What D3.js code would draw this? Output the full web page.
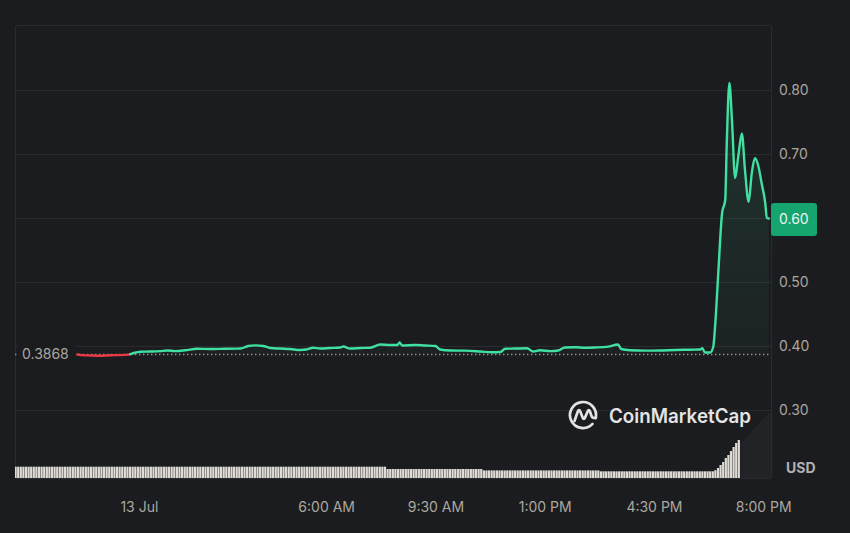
<!DOCTYPE html>
<html><head><meta charset="utf-8">
<script src="https://cdn.jsdelivr.net/npm/d3@7"></script>
<style>
html,body{margin:0;padding:0;background:#1b1c1f;}
svg{display:block;}
text{font-family:Inter,"Noto Sans",sans-serif;}
</style>
</head><body><svg id="c" width="850" height="533"></svg>
<script>
// ---------------- data ----------------
const priceTimes = [
"07-12 22:01","07-12 22:10","07-12 22:26","07-12 22:45","07-12 23:04","07-12 23:23","07-12 23:39","07-12 23:47",
"07-13 00:02","07-13 00:21","07-13 00:40","07-13 00:54","07-13 01:09","07-13 01:28","07-13 01:51","07-13 02:16",
"07-13 02:45","07-13 03:14","07-13 03:29","07-13 03:43","07-13 03:58","07-13 04:12","07-13 04:31","07-13 04:50",
"07-13 05:09","07-13 05:21","07-13 05:34","07-13 05:48","07-13 06:07","07-13 06:26","07-13 06:32","07-13 06:45",
"07-13 07:05","07-13 07:24","07-13 07:43","07-13 08:02","07-13 08:16","07-13 08:20","07-13 08:25","07-13 08:50",
"07-13 09:09","07-13 09:29","07-13 09:38","07-13 09:58","07-13 10:26","07-13 10:55","07-13 11:18","07-13 11:34",
"07-13 11:43","07-13 12:02","07-13 12:25","07-13 12:37","07-13 12:50","07-13 13:10","07-13 13:25","07-13 13:38",
"07-13 13:58","07-13 14:17","07-13 14:36","07-13 15:01","07-13 15:20","07-13 15:26","07-13 15:43","07-13 16:12",
"07-13 16:41","07-13 17:10","07-13 17:39","07-13 17:58","07-13 18:02","07-13 18:07","07-13 18:17","07-13 18:23",
"07-13 18:27","07-13 18:33","07-13 18:40","07-13 18:46","07-13 18:49","07-13 18:54","07-13 18:59","07-13 19:05",
"07-13 19:11","07-13 19:18","07-13 19:24","07-13 19:31","07-13 19:37","07-13 19:43","07-13 19:50","07-13 19:56",
"07-13 20:03","07-13 20:06","07-13 20:10"
];
const priceValues = [
0.3868,0.3858,0.3852,0.3847,0.3856,0.3858,0.3865,0.3885,
0.3911,0.3914,0.3920,0.3930,0.3920,0.3933,0.3958,0.3953,
0.3958,0.3960,0.4000,0.4010,0.4000,0.3969,0.3960,0.3953,
0.3938,0.3945,0.3973,0.3960,0.3969,0.3977,0.3992,0.3960,
0.3969,0.3973,0.4023,0.4016,0.4016,0.4055,0.4008,0.4016,
0.4008,0.4000,0.3945,0.3930,0.3927,0.3914,0.3902,0.3906,
0.3958,0.3960,0.3964,0.3914,0.3933,0.3920,0.3930,0.3977,
0.3980,0.3972,0.3977,0.3990,0.4023,0.3953,0.3933,0.3927,
0.3930,0.3938,0.3942,0.3945,0.3964,0.3898,0.3898,0.3984,
0.4360,0.5188,0.6078,0.6281,0.7172,0.8109,0.7531,0.6625,
0.6958,0.7323,0.6750,0.6255,0.6698,0.6933,0.6802,0.6542,
0.6230,0.6000,0.5992
];
const openPrice = 0.3868;
const openLabel = "0.3868";
const lastPriceLabel = "0.60";

const volumeStart = "07-12 20:00";
const volumeStepMinutes = 5;
const volumeValues = [
113,113,113,113,113,113,113,113,113,113,113,113, // 20h
113,113,113,113,113,113,113,113,113,113,113,113, // 21h
113,113,113,113,113,113,113,113,113,113,113,113, // 22h
113,113,113,113,113,113,113,113,113,113,113,113, // 23h
113,113,113,113,113,113,113,113,113,113,113,113, // 00h
113,113,113,113,113,113,113,113,113,113,113,113, // 01h
113,113,113,113,113,113,113,113,113,113,113,113, // 02h
113,113,113,113,113,113,113,113,113,113,113,113, // 03h
113,113,113,113,113,113,113,113,113,113,113,113, // 04h
113,113,113,113,113,113,113,113,113,113,113,113, // 05h
113,113,113,113,113,113,113,113,113,113,113,113, // 06h
113,113,113,113,113,113,113,113,113,113,113,90,  // 07h
90,90,90,90,90,90,90,90,90,90,90,90,             // 08h
90,90,90,90,90,90,90,90,90,90,90,90,             // 09h
90,90,90,90,90,90,90,90,90,90,90,90,             // 10h
76,76,76,76,76,76,76,76,76,76,76,76,             // 11h
76,76,76,76,76,76,76,76,76,76,76,76,             // 12h
76,76,76,76,76,76,76,76,76,76,76,76,             // 13h
76,76,76,76,76,76,76,76,76,67,67,67,             // 14h
67,67,67,67,67,67,67,67,67,67,67,67,             // 15h
67,67,67,67,67,67,67,67,67,67,67,67,             // 16h
67,67,67,67,67,67,67,67,67,67,67,67,             // 17h
67,67,67,67,67,78,100,130,160,200,230,270,       // 18h
310,350,380                                      // 19h
];

const yTicks = [0.30,0.40,0.50,0.60,0.70,0.80];
const xTickTimes = ["07-13 00:00","07-13 06:00","07-13 09:30","07-13 13:00","07-13 16:30","07-13 20:00"];
const xTickLabels = ["13 Jul","6:00 AM","9:30 AM","1:00 PM","4:30 PM","8:00 PM"];
const xDomainTimes = ["07-12 20:01","07-13 20:14"];
const currency = "USD";
const brand = "CoinMarketCap";

// ---------------- chart ----------------
const parse = d3.timeParse("%m-%d %H:%M");
const svg = d3.select("#c");
const W = 850, H = 533;
const plot = {left:15, right:771, top:25, bottom:478};
const bg = "#1b1c1f", gridC = "#2a2b2f", axisText = "#aba79f";
const green = "#3fe0a1", red = "#ea3943";

svg.append("rect").attr("width",W).attr("height",H).attr("fill",bg);

const x = d3.scaleTime().domain(xDomainTimes.map(parse)).range([plot.left, plot.right]);
const y = d3.scaleLinear().domain([0.30,0.80]).range([410,90]);
const yVol = d3.scaleLinear().domain([0,680]).range([plot.bottom, 410]);

const data = priceTimes.map((t,i)=>({t:parse(t), v:priceValues[i]}));
const yBase = y(openPrice);

const defs = svg.append("defs");
defs.append("clipPath").attr("id","plotClip").append("rect")
  .attr("x",plot.left).attr("y",plot.top).attr("width",plot.right-plot.left).attr("height",plot.bottom-plot.top);
defs.append("clipPath").attr("id","above").append("rect")
  .attr("x",plot.left).attr("y",plot.top).attr("width",plot.right-plot.left).attr("height",yBase-plot.top);
defs.append("clipPath").attr("id","below").append("rect")
  .attr("x",plot.left).attr("y",yBase).attr("width",plot.right-plot.left).attr("height",plot.bottom-yBase);

const gFill = defs.append("linearGradient").attr("id","gfill").attr("gradientUnits","userSpaceOnUse")
  .attr("x1",0).attr("x2",0).attr("y1",y(0.82)).attr("y2",yBase);
gFill.append("stop").attr("offset","0").attr("stop-color",green).attr("stop-opacity",0.13);
gFill.append("stop").attr("offset","1").attr("stop-color",green).attr("stop-opacity",0.03);
const rFill = defs.append("linearGradient").attr("id","rfill").attr("gradientUnits","userSpaceOnUse")
  .attr("x1",0).attr("x2",0).attr("y1",yBase).attr("y2",yBase+20);
rFill.append("stop").attr("offset","0").attr("stop-color",red).attr("stop-opacity",0.05);
rFill.append("stop").attr("offset","1").attr("stop-color",red).attr("stop-opacity",0.15);

// line colour gradient along x: red where price is below open, green where above
const stops = [];
for (let i=1;i<data.length;i++){
  const d=data[i], p=data[i-1];
  const below = d.v < openPrice, pb = p.v < openPrice;
  if (pb !== below){
    const f=(openPrice-p.v)/(d.v-p.v);
    const xc = x(p.t)+(x(d.t)-x(p.t))*f;
    stops.push({x:xc, c: pb?red:green});
    stops.push({x:xc, c: below?red:green});
  }
}
const lx0 = x(data[0].t), lx1 = x(data[data.length-1].t);
const lineGrad = defs.append("linearGradient").attr("id","lineGrad").attr("gradientUnits","userSpaceOnUse")
  .attr("x1",lx0).attr("x2",lx1).attr("y1",0).attr("y2",0);
const firstC = data[1].v < openPrice ? red : green;
lineGrad.append("stop").attr("offset",0).attr("stop-color",firstC);
stops.forEach(s=>lineGrad.append("stop").attr("offset",(s.x-lx0)/(lx1-lx0)).attr("stop-color",s.c));
lineGrad.append("stop").attr("offset",1).attr("stop-color",data[data.length-1].v<openPrice?red:green);

// grid
svg.append("g").selectAll("line").data(yTicks).join("line")
  .attr("x1",plot.left).attr("x2",plot.right)
  .attr("y1",d=>Math.round(y(d))+0.5).attr("y2",d=>Math.round(y(d))+0.5)
  .attr("stroke",gridC).attr("stroke-width",1);

// frame
svg.append("rect").attr("x",plot.left+0.5).attr("y",plot.top+0.5)
  .attr("width",plot.right-plot.left).attr("height",plot.bottom-plot.top)
  .attr("fill","none").attr("stroke",gridC).attr("stroke-width",1).attr("rx",1.5);

// volume bars
const v0 = parse(volumeStart);
const volData = volumeValues.map((v,i)=>({t0:d3.timeMinute.offset(v0,i*volumeStepMinutes), t1:d3.timeMinute.offset(v0,(i+1)*volumeStepMinutes), v}));
const gv = svg.append("g").attr("clip-path","url(#plotClip)");
gv.append("path")
  .attr("d", (()=>{ const lastV=volData[volData.length-1]; const xe=x(lastV.t1);
     return `M${xe},${yVol(lastV.v)+4} L${xe+28},${yVol(lastV.v)-27} L${plot.right},${yVol(lastV.v)-27} L${plot.right},${plot.bottom} L${xe},${plot.bottom}Z`; })())
  .attr("fill","#212326");
gv.selectAll("rect").data(volData).join("rect")
  .attr("x",d=>x(d.t0)).attr("width",d=>(x(d.t1)-x(d.t0))*0.85)
  .attr("y",d=>yVol(d.v)).attr("height",d=>plot.bottom-yVol(d.v))
  .attr("fill","#dfdcd6");

// logo
const logo = svg.append("g").attr("transform","translate(583,415)");
logo.append("path")
  .attr("d","M 9.5 8.9 A 13 13 0 1 1 12.6 3.2")
  .attr("fill","none").attr("stroke","#e2e2e2").attr("stroke-width",2.7).attr("stroke-linecap","round");
logo.append("path")
  .attr("d","M -8.5 6 L -5.2 -3.5 Q -4 -6.3 -2.7 -3.5 L -0.4 2.6 Q 0.8 5.2 2 2.6 L 4.6 -3.5 Q 5.8 -6.3 7 -3.5 L 8.3 0.5 Q 9.5 4 13 2.6")
  .attr("fill","none").attr("stroke","#e2e2e2").attr("stroke-width",2.7).attr("stroke-linecap","round").attr("stroke-linejoin","round");
svg.append("text").attr("x",609).attr("y",423).text(brand)
  .attr("font-size",20).attr("font-weight",600).attr("fill","#e4e4e4")
  .attr("textLength",142).attr("lengthAdjust","spacingAndGlyphs");

// baseline dotted
svg.append("line").attr("x1",plot.left).attr("x2",plot.right).attr("y1",yBase).attr("y2",yBase)
  .attr("stroke","#929292").attr("stroke-width",1.4).attr("stroke-dasharray","1.4 2.6");

// area fills
const area = d3.area().x(d=>x(d.t)).y0(yBase).y1(d=>y(d.v));
svg.append("path").datum(data).attr("d",area).attr("fill","url(#gfill)").attr("clip-path","url(#above)");
svg.append("path").datum(data).attr("d",area).attr("fill","url(#rfill)").attr("clip-path","url(#below)");

// line
const line = d3.line().x(d=>x(d.t)).y(d=>y(d.v)).curve(d3.curveMonotoneX);
svg.append("path").datum(data).attr("d",line).attr("fill","none")
  .attr("stroke","url(#lineGrad)").attr("stroke-width",2.4).attr("stroke-linejoin","round").attr("stroke-linecap","round");

// open label
svg.append("rect").attr("x",18).attr("y",yBase-9).attr("width",58).attr("height",18).attr("fill",bg);
svg.append("text").attr("x",22).attr("y",yBase).attr("dy","0.35em").text(openLabel)
  .attr("font-size",14).attr("fill",axisText);

// y axis labels
svg.append("g").selectAll("text").data(yTicks).join("text")
  .attr("x",779).attr("y",d=>y(d)).attr("dy","0.35em")
  .text(d=>d3.format(".2f")(d)).attr("font-size",14).attr("fill",axisText);

// last price box
const last = data[data.length-1];
const yl = y(last.v);
svg.append("rect").attr("x",plot.right).attr("y",yl-15.5).attr("width",46).attr("height",33).attr("rx",3)
  .attr("fill","#16a46f");
svg.append("text").attr("x",779).attr("y",yl+1).attr("dy","0.35em").text(lastPriceLabel)
  .attr("font-size",14).attr("fill","#eef5f1");

// currency
svg.append("text").attr("x",786).attr("y",468).attr("dy","0.35em").text(currency)
  .attr("font-size",14).attr("font-weight",700).attr("fill","#b2b2b4");

// x axis labels
svg.append("g").selectAll("text").data(xTickTimes).join("text")
  .attr("x",d=>x(parse(d))).attr("y",507).attr("dy","0.35em").attr("text-anchor","middle")
  .text((d,i)=>xTickLabels[i]).attr("font-size",14).attr("fill",axisText);
</script>
</body></html>
